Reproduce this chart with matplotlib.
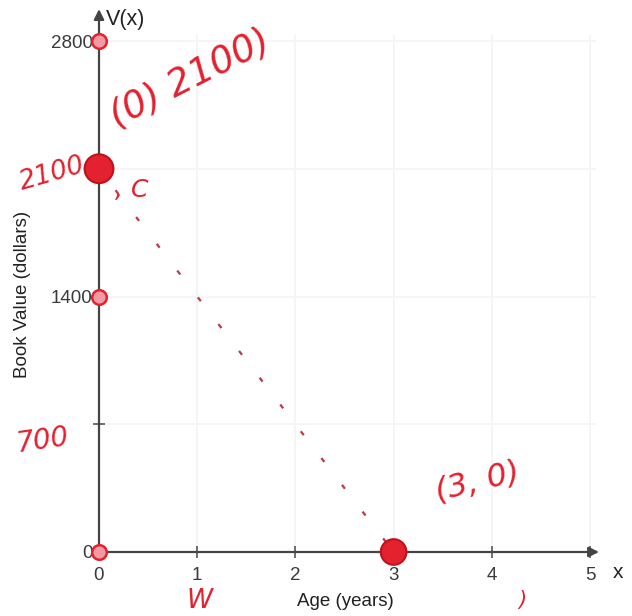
import matplotlib
matplotlib.use("Agg")
import matplotlib.pyplot as plt

# Book value of the asset over time
years = [0, 3]
book_value = [2100, 0]

# Points circled on the vertical axis
circled_x = [0, 0, 0]
circled_y = [2800, 1400, 0]

x_ticks = [0, 1, 2, 3, 4, 5]
y_ticks = [0, 700, 1400, 2100, 2800]
y_tick_labels = ["0", "", "1400", "", "2800"]

RED = "#e3212f"
W, H = 632, 616

plt.rcParams["font.family"] = ["Liberation Sans", "DejaVu Sans"]
fig = plt.figure(figsize=(W / 100, H / 100), dpi=100)

# origin at pixel (99, 552); 98.2 px per year, 511 px per 2800 dollars
x0, y0 = 99, 552
xmax, ymax = 5.12, 2990
px_x, px_y = 98.2, 511 / 2800
ax_w = xmax * px_x
ax_h = ymax * px_y
ax = fig.add_axes([x0 / W, (H - y0) / H, ax_w / W, ax_h / H])
ax.set_xlim(0, xmax)
ax.set_ylim(0, ymax)
ax.patch.set_alpha(0)
for s in ax.spines.values():
    s.set_visible(False)

# faint grid
for xv in x_ticks[1:]:
    ax.plot([xv, xv], [0, 2830], color="#f5f5f5", lw=1.4, zorder=0)
for yv in y_ticks[1:]:
    ax.plot([0, 5.05], [yv, yv], color="#f5f5f5", lw=1.4, zorder=0)

# axes with arrow heads
ax.annotate("", xy=(xmax, 0), xytext=(0, 0),
            arrowprops=dict(arrowstyle="-|>", color="#444444", lw=1.6,
                            mutation_scale=15), annotation_clip=False)
ax.annotate("", xy=(0, ymax), xytext=(0, 0),
            arrowprops=dict(arrowstyle="-|>", color="#444444", lw=1.6,
                            mutation_scale=15), annotation_clip=False)

ax.set_xticks(x_ticks)
ax.set_xticklabels([str(v) for v in x_ticks])
ax.set_yticks(y_ticks)
ax.set_yticklabels(y_tick_labels)
ax.tick_params(axis="both", direction="inout", length=9, width=1.2,
               color="#555555", labelcolor="#3a3a3a", labelsize=13.5)
ax.tick_params(axis="x", pad=6)
ax.tick_params(axis="y", pad=0)

ax.set_xlabel("Age (years)", fontsize=13.5, color="#222222")
ax.set_ylabel("Book Value (dollars)", fontsize=13.5, color="#222222")
ax.xaxis.set_label_coords((345 - x0) / ax_w, -(601 - y0) / ax_h)
ax.yaxis.set_label_coords(-(x0 - 23) / ax_w, (y0 - 294) / ax_h)
ax.xaxis.label.set_va("center")
ax.yaxis.label.set_va("center")

fig.text(618 / W, 1 - 573 / H, "x", fontsize=15, color="#222222",
         ha="center", va="center")
fig.text(126 / W, 1 - 20 / H, "V(x)", fontsize=15.5, color="#222222",
         ha="center", va="center")

# sketched line between the intercepts
ax.plot(years, book_value, linestyle=(3, (2.2, 13)), color="#b83a4a",
        lw=1.6, zorder=2, clip_on=False)

# marked intercepts
ax.scatter(years, book_value, s=[430, 340], color=RED, edgecolor="#c0101c",
           linewidth=1.5, zorder=4, clip_on=False)
ax.scatter(circled_x, circled_y, s=110, facecolor="#f59aa2",
           edgecolor=RED, linewidth=1.8, zorder=4, clip_on=False)

# handwritten notes
hand = dict(color=RED, family=["DejaVu Sans"], style="italic",
            fontweight="light", ha="center", va="center")
fig.text(190 / W, 1 - 78 / H, "(0) 2100)", fontsize=27, rotation=27, **hand)
fig.text(52 / W, 1 - 174 / H, "2100", fontsize=19, rotation=16, **hand)
fig.text(132 / W, 1 - 190 / H, ", C", fontsize=18, **hand)
fig.text(42 / W, 1 - 440 / H, "700", fontsize=20, rotation=8, **hand)
fig.text(478 / W, 1 - 482 / H, "(3, 0)", fontsize=23, rotation=14, **hand)
fig.text(200 / W, 1 - 601 / H, "W", fontsize=19, **hand)
fig.text(522 / W, 1 - 600 / H, ")", fontsize=15, **hand)

fig.savefig("out.png", dpi=100)
